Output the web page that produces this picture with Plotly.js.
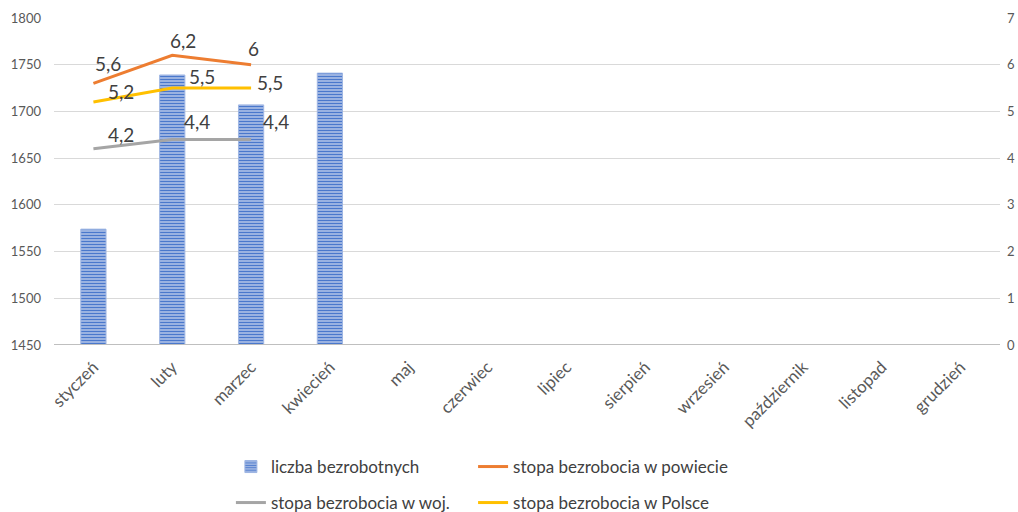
<!DOCTYPE html>
<html><head><meta charset="utf-8">
<script src="https://cdn.plot.ly/plotly-3.0.1.min.js"></script>
<style>html,body{margin:0;padding:0;background:#fff}#chart{width:1018px;height:512px}</style>
</head><body><div id="chart"></div>
<script>
const months = ['styczeń','luty','marzec','kwiecień','maj','czerwiec','lipiec','sierpień','wrzesień','październik','listopad','grudzień'];
const liczbaBezrobotnych = [1574, 1739, 1707, 1741, null, null, null, null, null, null, null, null];
const stopaPowiat = [5.6, 6.2, 6.0, null, null, null, null, null, null, null, null, null];
const stopaWoj = [4.2, 4.4, 4.4, null, null, null, null, null, null, null, null, null];
const stopaPolska = [5.2, 5.5, 5.5, null, null, null, null, null, null, null, null, null];
const seriesNames = ['liczba bezrobotnych','stopa bezrobocia w powiecie','stopa bezrobocia w woj.','stopa bezrobocia w Polsce'];

const fmt = v => String(v).replace('.', ',');
const FONT = 'Lato, "Open Sans", sans-serif';
const labFont = {family: FONT, size: 19, color: '#404040'};

// label offsets (px) per series/point
const labelOffsets = {
  powiat: [[15,20],[11,15],[2,16]],
  woj:    [[28,14],[25,18],[25,18]],
  polska: [[28,11],[30,12],[19,6]]
};

const traces = [
  {type:'bar', x: months, y: liczbaBezrobotnych, name: seriesNames[0], yaxis:'y', legend:'legend',
   marker:{color:'#4472c4', line:{color:'#9fb6e3', width:1},
     pattern:{shape:'-', fgcolor:'#4a78cc', bgcolor:'#a3b9e4', size:3, solidity:0.4}}},
  {type:'scatter', mode:'lines', x: months, y: stopaPowiat, name: seriesNames[1], yaxis:'y2', legend:'legend2',
   line:{color:'#ed7d31', width:3}},
  {type:'scatter', mode:'lines', x: months, y: stopaWoj, name: seriesNames[2], yaxis:'y2', legend:'legend3',
   line:{color:'#a5a5a5', width:3}},
  {type:'scatter', mode:'lines', x: months, y: stopaPolska, name: seriesNames[3], yaxis:'y2', legend:'legend4',
   line:{color:'#ffc000', width:3}}
];

const annotations = [];
function addLabels(vals, offs){
  vals.forEach((v,i)=>{
    if (v == null) return;
    annotations.push({x: months[i], y: v, xref:'x', yref:'y2', text: fmt(v), showarrow:false,
      xanchor:'center', yanchor:'middle', xshift: offs[i][0], yshift: offs[i][1], font: labFont});
  });
}
addLabels(stopaPowiat, labelOffsets.powiat);
addLabels(stopaWoj, labelOffsets.woj);
addLabels(stopaPolska, labelOffsets.polska);

const legBase = {orientation:'h', xref:'paper', yref:'container', xanchor:'left', yanchor:'middle',
  font:{family: FONT, size:17, color:'#404040'}, itemwidth:30, bgcolor:'rgba(0,0,0,0)'};
const col1 = 0.187, col2 = 0.443, row1 = 1-467/512, row2 = 1-503/512;

const layout = {
  width:1018, height:512,
  margin:{l:54, r:18, t:18, b:167},
  paper_bgcolor:'#fff', plot_bgcolor:'#fff',
  font:{family: FONT, color:'#595959', size:13},
  bargap:0.68,
  showlegend:true,
  legend:  Object.assign({}, legBase, {x:col1, y:row1}),
  legend2: Object.assign({}, legBase, {x:col2, y:row1}),
  legend3: Object.assign({}, legBase, {x:col1, y:row2}),
  legend4: Object.assign({}, legBase, {x:col2, y:row2}),
  xaxis:{type:'category', tickangle:-45, showgrid:false, ticks:'', showline:false, automargin:false,
    ticklabelstandoff:8, tickfont:{family: FONT, size:17, color:'#595959'}},
  yaxis:{range:[1450,1800], dtick:50, showgrid:true, gridcolor:'#d9d9d9', gridwidth:1, automargin:false,
    zeroline:false, showline:false, ticks:'', ticklabelstandoff:12,
    tickfont:{family: FONT, size:13, color:'#595959'}},
  yaxis2:{range:[0,7], dtick:1, overlaying:'y', side:'right', showgrid:false, zeroline:false, automargin:false,
    showline:false, ticks:'', ticklabelstandoff:6,
    tickfont:{family: FONT, size:13, color:'#595959'}},
  annotations: annotations,
  shapes:[{type:'line', xref:'paper', yref:'y', x0:0, x1:1, y0:1450, y1:1450,
    line:{color:'#bfbfbf', width:2}}]
};
Plotly.newPlot('chart', traces, layout, {displayModeBar:false, staticPlot:true});
</script></body></html>
